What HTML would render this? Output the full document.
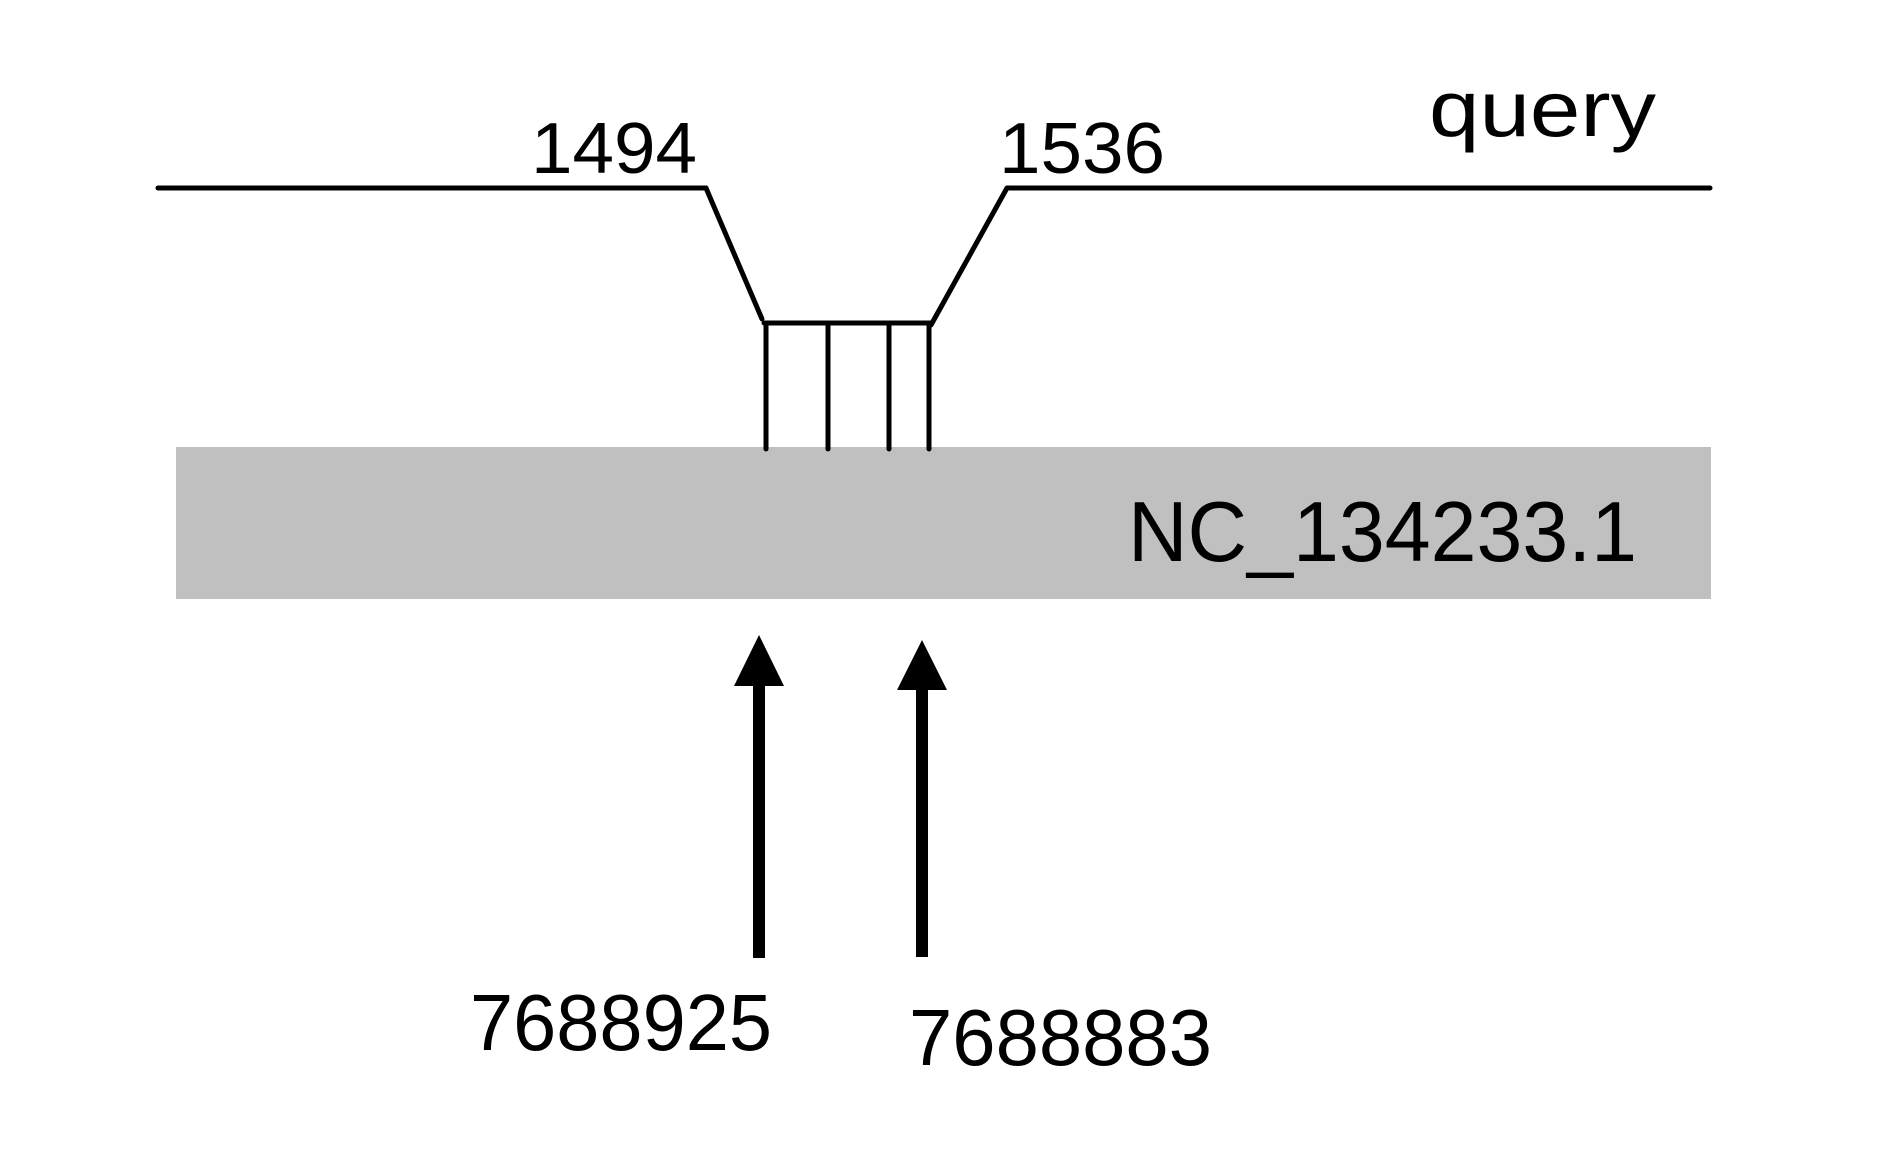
<!DOCTYPE html>
<html><head><style>html,body{margin:0;padding:0;background:#fff}svg{display:block}</style></head>
<body>
<svg width="1882" height="1168" viewBox="0 0 1882 1168" xmlns="http://www.w3.org/2000/svg" font-family="Liberation Sans, sans-serif">
<rect x="176" y="447" width="1535" height="152" fill="#c0c0c0"/>
<g stroke="#000" stroke-width="5" fill="none" stroke-linecap="round">
<line x1="158" y1="188" x2="706" y2="188"/>
<line x1="1007" y1="188" x2="1710" y2="188"/>
<line x1="706" y1="188" x2="762" y2="319"/>
<line x1="1007" y1="188" x2="931" y2="325"/>
<line x1="764" y1="323" x2="931" y2="323"/>
<line x1="766" y1="323" x2="766" y2="449"/>
<line x1="828" y1="323" x2="828" y2="449"/>
<line x1="889" y1="323" x2="889" y2="449"/>
<line x1="929" y1="323" x2="929" y2="449"/>
</g>
<g stroke="#000" stroke-width="12">
<line x1="759" y1="958" x2="759" y2="680"/>
<line x1="922" y1="957" x2="922" y2="684"/>
</g>
<polygon points="759,635 734,686 784,686" fill="#000"/>
<polygon points="922,640 897,690 947,690" fill="#000"/>
<g fill="#000">
<text x="531" y="173" font-size="72" textLength="166" lengthAdjust="spacingAndGlyphs">1494</text>
<text x="999" y="173" font-size="72" textLength="166" lengthAdjust="spacingAndGlyphs">1536</text>
<text x="1429" y="136" font-size="79" textLength="227" lengthAdjust="spacingAndGlyphs">query</text>
<text x="1128" y="561" font-size="85" textLength="509" lengthAdjust="spacingAndGlyphs">NC_134233.1</text>
<text x="470" y="1050" font-size="80" textLength="302" lengthAdjust="spacingAndGlyphs">7688925</text>
<text x="909" y="1065" font-size="80" textLength="303" lengthAdjust="spacingAndGlyphs">7688883</text>
</g>
</svg>
</body></html>
